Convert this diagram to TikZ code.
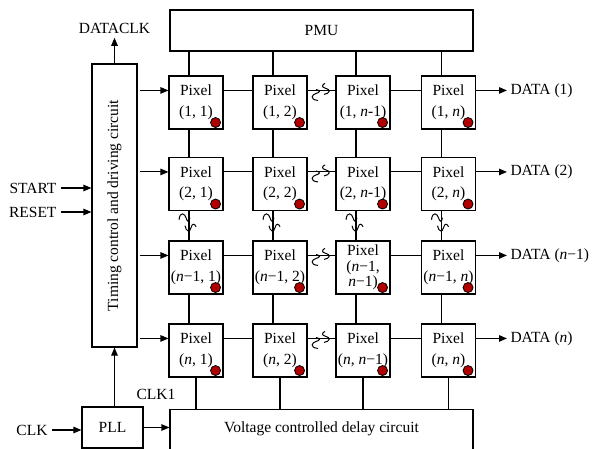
\documentclass[tikz,border=0pt]{standalone}
\usepackage{fontspec}
\setmainfont{Liberation Serif}
\usetikzlibrary{arrows.meta,calc}
\definecolor{dotred}{RGB}{176,0,0}
\begin{document}
\begin{tikzpicture}[x=1pt,y=-1pt, line width=1.1pt,
  every node/.style={font=\fontsize{15.5}{20}\selectfont},
  box/.style={draw, inner sep=0pt},
  pix/.style={draw, minimum width=54pt, minimum height=53pt, inner sep=0pt, align=center, font=\fontsize{15.5}{20.5}\selectfont},
  arr/.style={-{Triangle[length=8pt,width=6.5pt]}},
  reddot/.style={draw=black, fill=dotred, line width=0.8pt},
  brk/.pic={\draw[line width=1pt] (-10,-3) .. controls (-9,-12) and (-4,-9) .. (-3,-5) .. controls (-2,-1) and (0,0) .. (1,-5);
            \draw[line width=1pt] (-4,3) .. controls (-3,9) and (1,10) .. (2,5) .. controls (3,0) and (6,1) .. (7,4);}
]
\useasboundingbox (0,0) rectangle (592,449);
\clip (0,0) rectangle (592,449);

% main blocks
\node[box, minimum width=303pt, minimum height=41pt] (pmu) at (321.5,30.5) {PMU};
\node[box, minimum width=45pt, minimum height=283pt] (tc) at (114.5,205.5) {\rotatebox{90}{Timing control and driving circuit}};
\node[inner sep=4pt] (dclk) at (114.5,28) {DATACLK};
\node[box, minimum width=61pt, minimum height=41pt] (pll) at (112.5,427.5) {PLL};
\node[box, minimum width=303pt, minimum height=48pt, anchor=north] (vcd) at (321.5,409) {};
\node (vcdt) at (321.5,429) {Voltage controlled delay circuit};
\node (clk1) at (156,394) {CLK1};
\node[anchor=east, inner sep=0pt] (start) at (57,188) {START};
\node[anchor=east, inner sep=0pt] (reset) at (57,212) {RESET};
\node[anchor=east, inner sep=0pt] (clk) at (48,430) {CLK};

% pixels
\node[pix] (p11) at (196,102.5) {Pixel\\(1, 1)};
\node[pix] (p12) at (280,102.5) {Pixel\\(1, 2)};
\node[pix] (p13) at (363,102.5) {Pixel\\(1, \textit{n}-1)};
\node[pix] (p14) at (448.5,102.5) {Pixel\\(1, \textit{n})};
\node[pix] (p21) at (196,184) {Pixel\\(2, 1)};
\node[pix] (p22) at (280,184) {Pixel\\(2, 2)};
\node[pix] (p23) at (363,184) {Pixel\\(2, \textit{n}-1)};
\node[pix] (p24) at (448.5,184) {Pixel\\(2, \textit{n})};
\node[pix] (p31) at (196,267.5) {Pixel\\(\textit{n}−1, 1)};
\node[pix] (p32) at (280,267.5) {Pixel\\(\textit{n}−1, 2)};
\node[pix, font=\fontsize{15.5}{15.5}\selectfont] (p33) at (363,267.5) {Pixel\\(\textit{n}−1,\\ \textit{n}−1)};
\node[pix] (p34) at (448.5,267.5) {Pixel\\(\textit{n}−1, \textit{n})};
\node[pix] (p41) at (196,350.5) {Pixel\\(\textit{n}, 1)};
\node[pix] (p42) at (280,350.5) {Pixel\\(\textit{n}, 2)};
\node[pix] (p43) at (363,350.5) {Pixel\\(\textit{n}, \textit{n}−1)};
\node[pix] (p44) at (448.5,350.5) {Pixel\\(\textit{n}, \textit{n})};

% data labels
\node[anchor=west, inner sep=3pt] (d1) at (507,91) {DATA (1)};
\node[anchor=west, inner sep=3pt] (d2) at (507,172) {DATA (2)};
\node[anchor=west, inner sep=3pt] (d3) at (507,256) {DATA (\textit{n}−1)};
\node[anchor=west, inner sep=3pt] (d4) at (507,339) {DATA (\textit{n})};

% red dots
\foreach \r in {1,...,4}{
  \foreach \c in {1,...,4}{
    \draw[reddot] ($(p\r\c.south east)+(-8,-7)$) circle (5pt);
  }
}

\coordinate (bx) at (321,0);
% rows
\foreach \r in {1,...,4}{
  \coordinate (h\r) at ($(p\r1.north west)+(0,15)$);
  \coordinate (t\r) at (h\r -| tc.east);
  \draw[arr] ([xshift=2pt]t\r) -- (h\r);
  \draw (h\r -| p\r1.east) -- (h\r -| p\r2.west);
  \draw (h\r -| p\r2.east) -- (h\r -| p\r3.west);
  \draw (h\r -| p\r3.east) -- (h\r -| p\r4.west);
  \draw[arr] (h\r -| p\r4.east) -- (h\r -| d\r.west);
  \pic[rotate=90] at (h\r -| bx) {brk};
}
% columns
\foreach \c in {1,...,4}{
  \coordinate (v\c) at ($(p1\c.north)+(-7,0)$);
  \draw (v\c |- pmu.south) -- (v\c |- p1\c.north);
  \draw (v\c |- p1\c.south) -- (v\c |- p2\c.north);
  \draw (v\c |- p2\c.south) -- (v\c |- p3\c.north);
  \draw (v\c |- p3\c.south) -- (v\c |- p4\c.north);
  \draw (p4\c.south) -- (p4\c.south |- vcd.north);
  \pic at ($(v\c |- p2\c.south)!0.5!(v\c |- p3\c.north)+(0,-3)$) {brk};
}

% control arrows
\draw[arr] (tc.north) -- (dclk.south);
\draw[arr] ([xshift=4pt]start.east) -- (start.east -| tc.west);
\draw[arr] ([xshift=4pt]reset.east) -- (reset.east -| tc.west);
\draw[arr] ([xshift=4pt]clk.east) -- (clk.east -| pll.west);
\draw[arr] (pll.east) -- (pll.east -| vcd.west);
\draw[arr] (pll.north -| tc.south) -- (tc.south);
\end{tikzpicture}
\end{document}
